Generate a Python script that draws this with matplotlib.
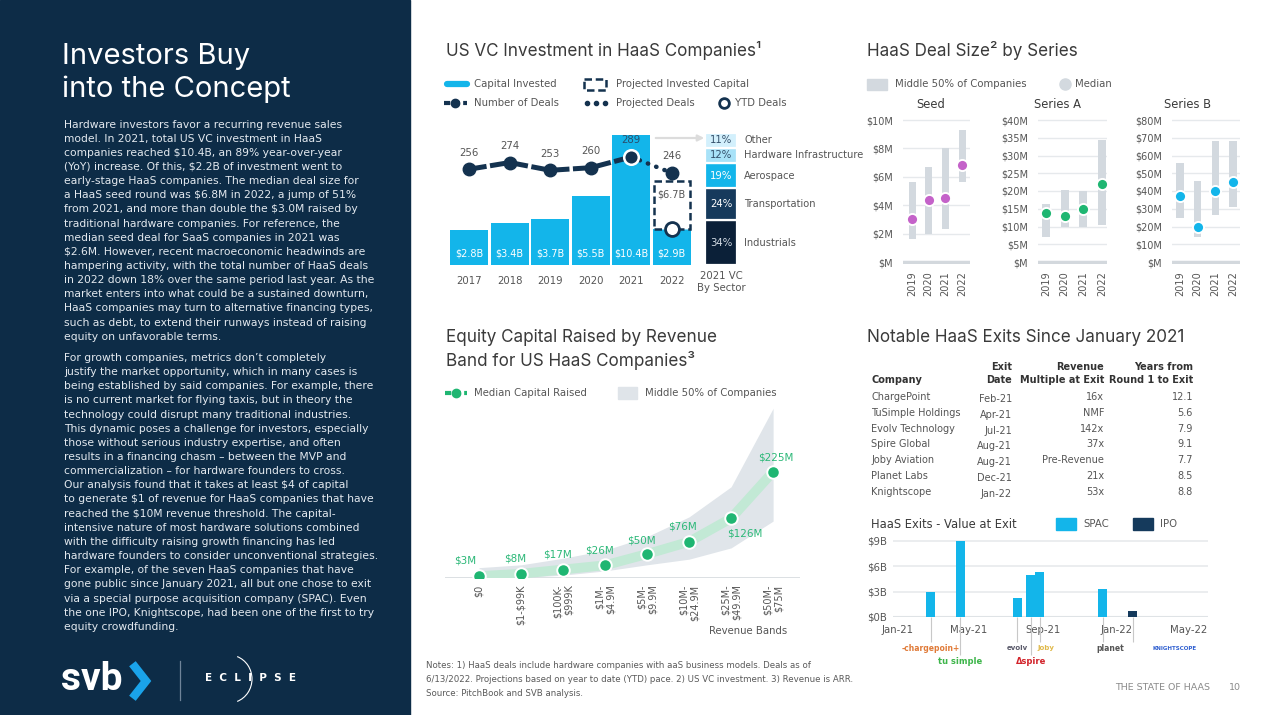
import datetime as dt
import numpy as np
import matplotlib
matplotlib.use("Agg")
import matplotlib.pyplot as plt
import matplotlib.dates as mdates
from matplotlib.patches import Rectangle, Arc

plt.rcParams['font.family'] = ['DejaVu Sans']
plt.rcParams['text.parse_math'] = False

# ---------------- data ----------------
years = ['2017', '2018', '2019', '2020', '2021', '2022']
capital = [2.8, 3.4, 3.7, 5.5, 10.4, 2.9]
projected_2022 = 6.7
deals = [256, 274, 253, 260, 289, 246]

sectors = ['Industrials', 'Transportation', 'Aerospace', 'Hardware Infrastructure', 'Other']
sector_pct = [34, 24, 19, 12, 11]

deal_years = ['2019', '2020', '2021', '2022']
seed_low = [1.6, 2.0, 2.3, 5.6]
seed_high = [5.6, 6.7, 8.0, 9.3]
seed_med = [3.0, 4.4, 4.5, 6.8]
a_low = [7.0, 9.8, 9.8, 10.4]
a_high = [16.3, 20.3, 20.0, 34.4]
a_med = [13.9, 13.0, 14.8, 22.0]
b_low = [25.0, 14.3, 26.3, 31.2]
b_high = [55.6, 45.6, 68.0, 68.3]
b_med = [37.0, 20.0, 40.0, 45.3]

rev_bands = ['$0', '$1-$99K', '$100K-\n$999K', '$1M-\n$4.9M', '$5M-\n$9.9M',
             '$10M-\n$24.9M', '$25M-\n$49.9M', '$50M-\n$75M']
median_cap = [3, 8, 17, 26, 50, 76, 126, 225]
band_low = [0, 0, 5, 14, 27, 39, 63, 120]
band_high = [21, 27, 41, 58, 87, 129, 193, 360]

companies = ['ChargePoint', 'TuSimple Holdings', 'Evolv Technology', 'Spire Global',
             'Joby Aviation', 'Planet Labs', 'Knightscope']
exit_month = ['Feb-21', 'Apr-21', 'Jul-21', 'Aug-21', 'Aug-21', 'Dec-21', 'Jan-22']
rev_multiple = ['16x', 'NMF', '142x', '37x', 'Pre-Revenue', '21x', '53x']
years_to_exit = ['12.1', '5.6', '7.9', '9.1', '7.7', '8.5', '8.8']

exit_days = ['2021-02-26', '2021-04-16', '2021-07-20', '2021-08-12',
             '2021-08-27', '2021-12-10', '2022-01-29']
exit_value = [3.0, 9.0, 2.2, 5.0, 5.3, 3.3, 0.7]
exit_type = ['SPAC', 'SPAC', 'SPAC', 'SPAC', 'SPAC', 'SPAC', 'IPO']

# ---------------- style ----------------
W, H = 1271, 715
NAVY = '#0d2c47'
CYAN = '#13b5ea'
DARK = '#14324f'
TXT = '#3a3a3a'
GRAY = '#555555'
BAND = '#d3d9df'
GREEN = '#1fb672'
PURPLE = '#c462c9'

fig = plt.figure(figsize=(W / 100, H / 100), dpi=100)
bg = fig.add_axes([0, 0, 1, 1])
bg.set_xlim(0, W)
bg.set_ylim(H, 0)
bg.axis('off')
bg.add_patch(Rectangle((0, 0), 410, H, color=NAVY, zorder=0))


def box(x0, y0, x1, y1):
    a = fig.add_axes([x0 / W, 1 - y1 / H, (x1 - x0) / W, (y1 - y0) / H])
    a.set_facecolor('none')
    for s in a.spines.values():
        s.set_visible(False)
    return a


def T(x, y, s, **kw):
    kw.setdefault('va', 'center')
    kw.setdefault('fontsize', 7)
    kw.setdefault('color', GRAY)
    bg.text(x, y, s, **kw)


# ---------------- left panel ----------------
T(62, 57, 'Investors Buy', fontsize=21, color='white', family='Inter')
T(62, 89, 'into the Concept', fontsize=21, color='white', family='Inter')

para1 = [
    "Hardware investors favor a recurring revenue sales",
    "model. In 2021, total US VC investment in HaaS",
    "companies reached $10.4B, an 89% year-over-year",
    "(YoY) increase. Of this, $2.2B of investment went to",
    "early-stage HaaS companies. The median deal size for",
    "a HaaS seed round was $6.8M in 2022, a jump of 51%",
    "from 2021, and more than double the $3.0M raised by",
    "traditional hardware companies. For reference, the",
    "median seed deal for SaaS companies in 2021 was",
    "$2.6M. However, recent macroeconomic headwinds are",
    "hampering activity, with the total number of HaaS deals",
    "in 2022 down 18% over the same period last year. As the",
    "market enters into what could be a sustained downturn,",
    "HaaS companies may turn to alternative financing types,",
    "such as debt, to extend their runways instead of raising",
    "equity on unfavorable terms.",
]
para2 = [
    "For growth companies, metrics don\u2019t completely",
    "justify the market opportunity, which in many cases is",
    "being established by said companies. For example, there",
    "is no current market for flying taxis, but in theory the",
    "technology could disrupt many traditional industries.",
    "This dynamic poses a challenge for investors, especially",
    "those without serious industry expertise, and often",
    "results in a financing chasm \u2013 between the MVP and",
    "commercialization \u2013 for hardware founders to cross.",
    "Our analysis found that it takes at least $4 of capital",
    "to generate $1 of revenue for HaaS companies that have",
    "reached the $10M revenue threshold. The capital-",
    "intensive nature of most hardware solutions combined",
    "with the difficulty raising growth financing has led",
    "hardware founders to consider unconventional strategies.",
    "For example, of the seven HaaS companies that have",
    "gone public since January 2021, all but one chose to exit",
    "via a special purpose acquisition company (SPAC). Even",
    "the one IPO, Knightscope, had been one of the first to try",
    "equity crowdfunding.",
]
for i, line in enumerate(para1):
    T(64, 124.5 + i * 14.15, line, fontsize=7.75, color='#e3e9ef')
for i, line in enumerate(para2):
    T(64, 358 + i * 14.15, line, fontsize=7.75, color='#e3e9ef')

# logos
T(61, 680, 'svb', fontsize=28, color='white', weight='bold', family='Roboto')
bg.plot([135, 146, 135], [667, 681, 695], color='#1aa3ea', lw=6, solid_joinstyle='miter')
bg.plot([180, 180], [661, 700], color='#6f8499', lw=0.9)
T(205, 678, 'E  C  L  I  P  S  E', fontsize=7.5, color='white', weight='bold')
bg.add_patch(Arc((229, 679), 46, 48, theta1=-70, theta2=70, color='white', lw=0.8))

# ---------------- US VC investment ----------------
T(446, 50, 'US VC Investment in HaaS Companies\u00b9', fontsize=12.3, color=TXT, family='Inter')
bg.plot([447, 467], [84, 84], color=CYAN, lw=4.5, solid_capstyle='round')
T(474, 84, 'Capital Invested', fontsize=7.3)
bg.add_patch(Rectangle((584, 79), 22, 11, fill=False, ec=DARK, lw=1.8, ls=(0, (3, 1.5))))
T(616, 84, 'Projected Invested Capital', fontsize=7.3)
bg.plot([444, 467], [103, 103], color=DARK, lw=3, ls=(0, (1.5, 0.8)))
bg.plot([455], [103], 'o', color=DARK, ms=6)
T(474, 103, 'Number of Deals', fontsize=7.3)
bg.plot([587, 596, 605], [103, 103, 103], 'o', color=DARK, ms=3)
T(616, 103, 'Projected Deals', fontsize=7.3)
bg.plot([724], [103], 'o', mfc='white', mec=DARK, mew=2, ms=7)
T(735, 103, 'YTD Deals', fontsize=7.3)

ax1 = box(447, 105, 692, 265)
xs = np.arange(len(years))
ax1.bar(xs, capital, width=0.93, color=CYAN, zorder=2)
ax1.add_patch(Rectangle((xs[-1] - 0.45, capital[-1]), 0.9, projected_2022 - capital[-1],
                        facecolor='white', edgecolor=DARK, lw=1.8, ls=(0, (3, 1.5)), zorder=3))
for i, v in enumerate(capital):
    ax1.text(i, 0.95, f'${v}B', color='white', ha='center', va='center', fontsize=7, zorder=4)
ax1.text(xs[-1], 5.65, f'${projected_2022}B', color=GRAY, ha='center', va='center', fontsize=7, zorder=4)
ax1.plot(xs[-1], capital[-1], 'o', mfc='white', mec=DARK, mew=2, ms=10, zorder=6)
ax1.set_xlim(-0.55, 5.5)
ax1.set_ylim(0, 12.8)
ax1.set_yticks([])
ax1.set_xticks(xs, years)
ax1.tick_params(axis='x', length=0, pad=8, labelsize=7.3, labelcolor=GRAY)

ax2 = ax1.twinx()
ax2.set_ylim(-3, 429.5)
ax2.set_axis_off()
ax2.plot(xs[:5], deals[:5], color=DARK, lw=3.6, ls=(0, (3.5, 0.7)), zorder=3)
ax2.plot(xs[4:], deals[4:], color=DARK, lw=3.2, ls=(0, (0.1, 1.9)), dash_capstyle='round', zorder=3)
ax2.plot(xs[:4], deals[:4], 'o', color=DARK, ms=9, zorder=4)
ax2.plot(xs[5], deals[5], 'o', color=DARK, ms=9, zorder=4)
ax2.plot(xs[4], deals[4], 'o', mfc=DARK, mec='white', mew=1.8, ms=10.5, zorder=5)
for i, v in enumerate(deals):
    ax2.annotate(str(v), (i, v), xytext=(0, 12), textcoords='offset points', ha='center',
                 va='center', fontsize=7.3, color='#2a4d6b' if i == 4 else GRAY, zorder=6)

bg.annotate('', xy=(707, 138), xytext=(653, 138),
            arrowprops=dict(arrowstyle='-|>', color='#dcdcdc', lw=1.6, mutation_scale=9))

ax3 = box(705, 133, 737, 265)
sec_face = ['#0b2038', '#163a5c', CYAN, '#a8e2f8', '#d3f0fc']
sec_txt = ['#d3dbe4', 'white', 'white', '#34506b', '#34506b']
bottom = 0
for name, p, fc, tc in zip(sectors, sector_pct, sec_face, sec_txt):
    ax3.bar(0, p, bottom=bottom, width=1, color=fc, edgecolor='white', lw=1.6)
    ax3.text(0, bottom + p / 2, f'{p}%', ha='center', va='center', fontsize=7.3, color=tc)
    ax3.text(0.72, bottom + p / 2, name, ha='left', va='center', fontsize=7.1, color=GRAY,
             clip_on=False)
    bottom += p
ax3.set_xlim(-0.5, 0.5)
ax3.set_ylim(0, 100)
ax3.set_xticks([])
ax3.set_yticks([])
T(721, 282, '2021 VC\nBy Sector', fontsize=7.3, ha='center', linespacing=1.35)

# ---------------- deal size by series ----------------
T(867, 50, 'HaaS Deal Size\u00b2 by Series', fontsize=12.3, color=TXT, family='Inter')
bg.add_patch(Rectangle((867, 79), 20, 11, color=BAND))
T(895, 84, 'Middle 50% of Companies', fontsize=7.3)
bg.plot([1065], [84], 'o', color=BAND, ms=8)
T(1075, 84, 'Median', fontsize=7.3)

panels = [
    ('Seed', 931, 903, 970, -0.54, 3.48, 10, 2, seed_low, seed_high, seed_med, PURPLE),
    ('Series A', 1057, 1038, 1107, -0.43, 3.27, 40, 5, a_low, a_high, a_med, GREEN),
    ('Series B', 1188, 1172, 1240, -0.45, 3.4, 80, 10, b_low, b_high, b_med, CYAN),
]
for title, tx, x0, x1, xl, xr, ymax, step, lo, hi, med, col in panels:
    ax = box(x0, 118, x1, 264)
    ppu = 142 / ymax
    ax.set_ylim(-2 / ppu, ymax + 2 / ppu)
    ax.set_xlim(xl, xr)
    xi = np.arange(len(deal_years))
    ax.bar(xi, np.array(hi) - np.array(lo), bottom=lo, width=0.42, color=BAND, zorder=2)
    ax.plot(xi, med, 'o', color=col, mec='white', mew=1.4, ms=8, zorder=3)
    ticks = np.arange(0, ymax + step, step)
    ax.set_yticks(ticks, ['$M' if t == 0 else f'${t}M' for t in ticks])
    ax.yaxis.grid(True, color='#e6e9ec', lw=1)
    ax.set_axisbelow(True)
    ax.axhline(0, color='#d3d8dd', lw=2.5, zorder=1)
    ax.set_xticks(xi, deal_years, rotation=90)
    ax.tick_params(length=0, labelsize=7, labelcolor=GRAY)
    ax.tick_params(axis='y', pad=7)
    ax.tick_params(axis='x', pad=5)
    T(tx, 104, title, fontsize=8.3, color=TXT, ha='center')

# ---------------- equity capital by revenue band ----------------
T(446, 338, 'Equity Capital Raised by Revenue', fontsize=12.3, color=TXT, family='Inter')
T(446, 360, 'Band for US HaaS Companies\u00b3', fontsize=12.3, color=TXT, family='Inter')
bg.plot([445, 467], [393, 393], color=GREEN, lw=3, ls=(0, (1.5, 0.8)))
bg.plot([456], [393], 'o', color=GREEN, ms=6)
T(474, 393, 'Median Capital Raised', fontsize=7.3)
bg.add_patch(Rectangle((618, 387), 19, 12, color='#dfe4e9'))
T(645, 393, 'Middle 50% of Companies', fontsize=7.3)

ax4 = box(445, 400, 800, 577.5)
xb = np.arange(len(rev_bands))
ax4.fill_between(xb, band_low, band_high, color='#e0e5ea', lw=0, zorder=1)
ax4.axhline(0, color='#d5dade', lw=1.2, zorder=1)
ax4.plot(xb, median_cap, color='#c2e9d5', lw=7, solid_capstyle='round', zorder=2)
ax4.plot(xb, median_cap, 'o', color=GREEN, mec='white', mew=1.4, ms=9, zorder=3)
offs = [(-10, 11), (-4, 11), (-4, 11), (-4, 11), (-4, 10), (-5, 11), (10, -11), (2, 10)]
for i, v in enumerate(median_cap):
    ax4.annotate(f'${v}M', (i, v), xytext=offs[i], textcoords='offset points', ha='center',
                 va='center', fontsize=7.5, color='#2cb878', zorder=4)
ax4.set_xlim(-0.81, 7.64)
ax4.set_ylim(0, 377.7)
ax4.set_yticks([])
ax4.set_xticks(xb, rev_bands, rotation=90)
ax4.tick_params(axis='x', length=0, pad=5, labelsize=7, labelcolor=GRAY)
for lab in ax4.get_xticklabels():
    lab.set_multialignment('right')
T(748, 631, 'Revenue Bands', fontsize=7.3, ha='center')

# ---------------- exits table ----------------
T(867, 338, 'Notable HaaS Exits Since January 2021', fontsize=12.3, color=TXT, family='Inter')
hdr = dict(fontsize=7, color='#333333', weight='bold')
T(871, 380, 'Company', **hdr)
T(1012, 373.5, 'Exit\nDate', ha='right', linespacing=1.35, **hdr)
T(1104, 373.5, 'Revenue\nMultiple at Exit', ha='right', linespacing=1.35, **hdr)
T(1193, 373.5, 'Years from\nRound 1 to Exit', ha='right', linespacing=1.35, **hdr)
for i in range(len(companies)):
    y = 398 + i * 15.8
    T(871, y - 1, companies[i], fontsize=7, color='#555555')
    T(1012, y + 1, exit_month[i], fontsize=7, color='#555555', ha='right')
    T(1104, y - 1, rev_multiple[i], fontsize=7, color='#555555', ha='right')
    T(1193, y - 1, years_to_exit[i], fontsize=7, color='#555555', ha='right')

# ---------------- exits value chart ----------------
T(871, 524, 'HaaS Exits - Value at Exit', fontsize=8.3, color=TXT)
bg.add_patch(Rectangle((1056, 518), 20, 12, color=CYAN))
T(1083, 524, 'SPAC', fontsize=7.3)
bg.add_patch(Rectangle((1133, 518), 20, 12, color='#153a5c'))
T(1160, 524, 'IPO', fontsize=7.3)

ax5 = box(893, 535, 1208, 617)
dnum = mdates.date2num([dt.date.fromisoformat(d) for d in exit_days])
bar_cols = [CYAN if t == 'SPAC' else '#153a5c' for t in exit_type]
ax5.bar(dnum, exit_value, width=15, color=bar_cols, zorder=2)
t0 = mdates.date2num(dt.date(2021, 1, 1))
ax5.set_xlim(t0 - 6.7, t0 + 518)
ax5.set_ylim(0, 9.7)
ax5.set_yticks([0, 3, 6, 9], ['$0B', '$3B', '$6B', '$9B'])
ax5.yaxis.grid(True, color='#e8eaec', lw=1.2)
ax5.set_axisbelow(True)
ax5.axhline(0, color='#dfe3e6', lw=1.5, zorder=1)
ax5.set_xticks(mdates.date2num([dt.date(2021, 1, 1), dt.date(2021, 5, 1), dt.date(2021, 9, 1),
                                dt.date(2022, 1, 1), dt.date(2022, 5, 1)]))
ax5.xaxis.set_major_formatter(mdates.DateFormatter('%b-%y'))
ax5.tick_params(length=0, labelsize=7.3, labelcolor=GRAY)
ax5.tick_params(axis='x', pad=6)
ax5.tick_params(axis='y', pad=4)

# logo stand-ins under each exit
logo_text = ['-chargepoin+', 'tu simple', 'evolv', '\u0394spire', 'Joby', 'planet', 'KNIGHTSCOPE']
logo_col = ['#e07b39', '#3db54a', '#5a5a6a', '#d2232a', '#e0b94a', '#555555', '#2f5fd0']
logo_row = [-3.7, -5.25, -3.7, -5.25, -3.7, -3.7, -3.7]
logo_dx = [0, 0, 0, 0, 4, 5, 30]
logo_fs = [5.5, 6, 5, 6, 5, 5.5, 4]
for i in range(len(dnum)):
    ax5.vlines(dnum[i], logo_row[i] + 0.7, 0, color='#c8c8c8', lw=0.8, clip_on=False)
    ax5.annotate(logo_text[i], (dnum[i], logo_row[i]), xytext=(logo_dx[i], 0),
                 textcoords='offset points', ha='center', va='center', fontsize=logo_fs[i],
                 color=logo_col[i], weight='bold', annotation_clip=False)

# ---------------- footer ----------------
T(426, 666, 'Notes: 1) HaaS deals include hardware companies with aaS business models. Deals as of',
  fontsize=6.2, color='#5a5a5a')
T(426, 680, '6/13/2022. Projections based on year to date (YTD) pace. 2) US VC investment. 3) Revenue is ARR.',
  fontsize=6.2, color='#5a5a5a')
T(426, 693, 'Source: PitchBook and SVB analysis.', fontsize=6.2, color='#5a5a5a')
T(1115, 688, 'THE STATE OF HAAS', fontsize=6.8, color='#8a8a8a')
T(1229, 688, '10', fontsize=6.8, color='#8a8a8a')

fig.savefig('out.png', dpi=100, facecolor='white')
